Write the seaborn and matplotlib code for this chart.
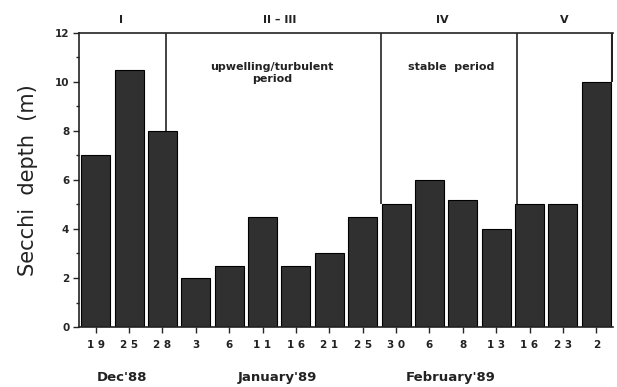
import matplotlib
matplotlib.use("Agg")
import matplotlib.pyplot as plt
import seaborn as sns
import pandas as pd
from matplotlib.ticker import MultipleLocator

days = ["19", "25", "28", "3", "6", "11", "16", "21", "25", "30", "6", "8", "13", "16", "23", "2"]
secchi = [7, 10.5, 8, 2, 2.5, 4.5, 2.5, 3, 4.5, 5, 6, 5.2, 4, 5, 5, 10]
months = ["Dec'88", "January'89", "February'89"]
phases = ["I", "II \u2013 III", "IV", "V"]
notes = ["upwelling/turbulent\nperiod", "stable  period"]

sns.set_theme(style="white")
plt.rcParams["font.family"] = ["DejaVu Sans"]

df = pd.DataFrame({"idx": [str(i) for i in range(len(days))], "depth": secchi})

fig = plt.figure(figsize=(6.17, 3.87), dpi=100)
ax = fig.add_axes([0.128, 0.155, 0.8655, 0.760])

sns.barplot(data=df, x="idx", y="depth", color="#303030", saturation=1,
            width=0.87, edgecolor="black", linewidth=0.8, ax=ax)

ax.set_xlim(-0.5, 15.5)
ax.set_ylim(0, 12)
ax.set_xticks(range(len(days)))
ax.set_xticklabels([" ".join(d) for d in days], fontsize=7.5, fontweight="bold", color="#222")
ax.yaxis.set_major_locator(MultipleLocator(2))
ax.yaxis.set_minor_locator(MultipleLocator(1))
ax.tick_params(axis="y", which="major", left=True, length=4, width=1, labelsize=7.5, pad=3)
ax.tick_params(axis="y", which="minor", left=True, length=2.5, width=1)
ax.tick_params(axis="x", bottom=True, length=4, width=1, pad=5)
for lab in ax.get_yticklabels():
    lab.set_fontweight("bold")
ax.set_xlabel("")
ax.set_ylabel("Secchi  depth  (m)", fontsize=15, labelpad=12, color="#222")

for s in ["left", "bottom", "top"]:
    ax.spines[s].set_visible(True)
    ax.spines[s].set_color("#222")
    ax.spines[s].set_linewidth(1.2)
ax.spines["right"].set_visible(False)

# period dividers
ax.vlines(2.12, 8, 12, color="#222", lw=1.2)
ax.vlines(8.55, 5, 12, color="#222", lw=1.2)
ax.vlines(12.62, 5, 12, color="#222", lw=1.2)
ax.vlines(15.48, 10, 12, color="#222", lw=1.5)

# phase labels
tr = ax.get_xaxis_transform()
for xpos, lab in zip([0.77, 5.5, 10.4, 14.05], phases):
    ax.text(xpos, 1.044, lab, transform=tr, ha="center", va="center",
            fontsize=8, fontweight="bold", color="#222")

ax.text(5.28, 10.8, notes[0], ha="center", va="top", fontsize=8,
        fontweight="bold", color="#222", linespacing=1.15)
ax.text(10.65, 10.8, notes[1], ha="center", va="top", fontsize=8,
        fontweight="bold", color="#222")

# month labels
for xpos, lab in zip([0.8, 5.45, 10.65], months):
    ax.text(xpos, -0.15, lab, transform=tr, ha="center", va="top",
            fontsize=9.5, fontweight="bold", color="#222")

fig.savefig("out.png", dpi=100)
